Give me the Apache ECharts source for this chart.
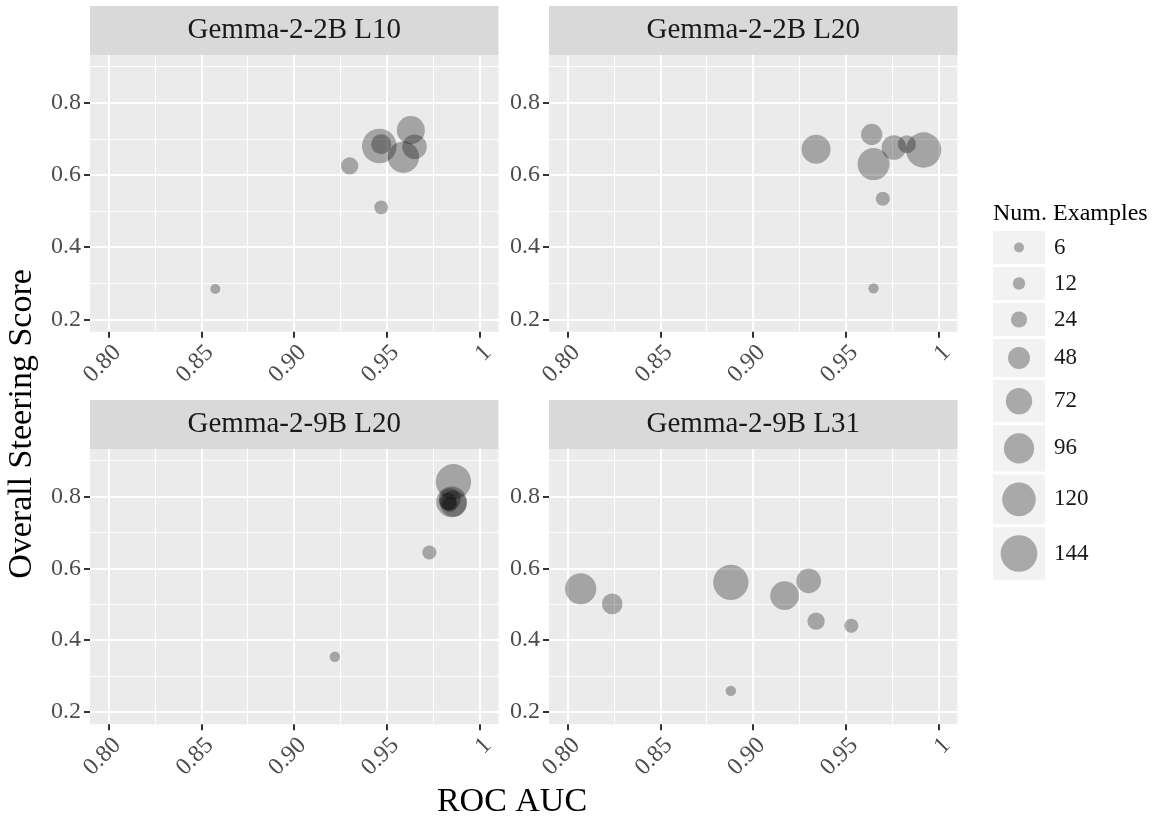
<!DOCTYPE html>
<html>
<head>
<meta charset="utf-8">
<script src="https://cdn.jsdelivr.net/npm/echarts@6/dist/echarts.min.js"></script>
<style>
  html, body { margin: 0; padding: 0; background: #fff; }
  #chart { width: 1157px; height: 821px; }
</style>
</head>
<body>
<div id="chart"></div>
<script>
const panelTitles = ['Gemma-2-2B L10', 'Gemma-2-2B L20', 'Gemma-2-9B L20', 'Gemma-2-9B L31']

// one triple of arrays per panel: ROC AUC, overall steering score, number of examples
const auc2bL10 = [0.8575, 0.930, 0.946, 0.947, 0.947, 0.959, 0.963, 0.965]
const score2bL10 = [0.284, 0.625, 0.680, 0.685, 0.510, 0.649, 0.724, 0.678]
const n2bL10 = [6, 28, 128, 40, 16, 104, 82, 62]

const auc2bL20 = [0.934, 0.964, 0.965, 0.965, 0.970, 0.976, 0.983, 0.992]
const score2bL20 = [0.671, 0.712, 0.630, 0.286, 0.534, 0.676, 0.685, 0.669]
const n2bL20 = [88, 45, 108, 7, 17, 62, 31, 133]

const auc9bL20 = [0.922, 0.973, 0.985, 0.986, 0.984, 0.983, 0.984, 0.986]
const score9bL20 = [0.354, 0.644, 0.785, 0.780, 0.792, 0.786, 0.778, 0.841]
const n9bL20 = [7, 17, 100, 72, 48, 30, 20, 133]

const auc9bL31 = [0.807, 0.824, 0.888, 0.888, 0.917, 0.930, 0.934, 0.953]
const score9bL31 = [0.543, 0.501, 0.561, 0.259, 0.524, 0.565, 0.453, 0.440]
const n9bL31 = [103, 42, 133, 7, 86, 62, 28, 17]

const xTicks = [0.80, 0.85, 0.90, 0.95, 1]
const xTickLabels = ['0.80', '0.85', '0.90', '0.95', '1']
const xMinorTicks = [0.825, 0.875, 0.925, 0.975]
const yTicks = [0.2, 0.4, 0.6, 0.8]
const yTickLabels = ['0.2', '0.4', '0.6', '0.8']
const yMinorTicks = [0.3, 0.5, 0.7, 0.9]
const legendBreaks = [6, 12, 24, 48, 72, 96, 120, 144]

const panels = [
  [auc2bL10, score2bL10, n2bL10],
  [auc2bL20, score2bL20, n2bL20],
  [auc9bL20, score9bL20, n9bL20],
  [auc9bL31, score9bL31, n9bL31],
]

const X_MIN = 0.7899
const X_MAX = 1.0103
const Y_MIN = 0.166
const Y_MAX = 0.932
const FONT = '"Liberation Serif", "DejaVu Serif", serif'
const POINT_FILL = 'rgba(0, 0, 0, 0.3)'

// point diameter grows with the square root of the count, like ggplot's area scale
function sizeOf(n) {
  return Math.sqrt(46 + 9.04 * n)
}

function labelFor(ticks, labels) {
  return (v) => {
    let best = 0
    ticks.forEach((t, i) => {
      if (Math.abs(t - v) < Math.abs(ticks[best] - v))
        best = i
    })
    return labels[best]
  }
}

const gridBoxes = [
  { left: 90, top: 55, width: 408.5, height: 276.7 },
  { left: 549, top: 55, width: 408.5, height: 276.7 },
  { left: 90, top: 449, width: 408.5, height: 275.3 },
  { left: 549, top: 449, width: 408.5, height: 275.3 },
]

const grids = []
const xAxes = []
const yAxes = []
const series = []
const graphics = []

gridBoxes.forEach((box, i) => {
  grids.push({ ...box, show: true, backgroundColor: '#ebebeb', borderWidth: 0 })

  // major grid, ticks and labels
  xAxes.push({
    gridIndex: i,
    type: 'value',
    min: X_MIN,
    max: X_MAX,
    axisLine: { show: false },
    axisTick: { show: true, customValues: xTicks, length: 6, lineStyle: { color: '#333333', width: 2 } },
    axisLabel: {
      customValues: xTicks,
      rotate: 45,
      margin: 9,
      verticalAlign: 'top',
      fontSize: 24,
      fontFamily: FONT,
      color: '#4d4d4d',
      formatter: labelFor(xTicks, xTickLabels),
    },
    splitLine: { show: true, lineStyle: { color: '#ffffff', width: 2 } },
  })
  // minor grid
  xAxes.push({
    gridIndex: i,
    type: 'value',
    position: 'bottom',
    min: X_MIN,
    max: X_MAX,
    axisLine: { show: false },
    axisTick: { show: false, customValues: xMinorTicks },
    axisLabel: { show: false, customValues: xMinorTicks },
    splitLine: { show: true, lineStyle: { color: '#ffffff', width: 1 } },
  })

  yAxes.push({
    gridIndex: i,
    type: 'value',
    min: Y_MIN,
    max: Y_MAX,
    axisLine: { show: false },
    axisTick: { show: true, customValues: yTicks, length: 6, lineStyle: { color: '#333333', width: 2 } },
    axisLabel: {
      customValues: yTicks,
      margin: 9,
      fontSize: 24,
      fontFamily: FONT,
      color: '#4d4d4d',
      formatter: labelFor(yTicks, yTickLabels),
    },
    splitLine: { show: true, lineStyle: { color: '#ffffff', width: 2 } },
  })
  yAxes.push({
    gridIndex: i,
    type: 'value',
    position: 'left',
    min: Y_MIN,
    max: Y_MAX,
    axisLine: { show: false },
    axisTick: { show: false, customValues: yMinorTicks },
    axisLabel: { show: false, customValues: yMinorTicks },
    splitLine: { show: true, lineStyle: { color: '#ffffff', width: 1 } },
  })

  const [auc, score, n] = panels[i]
  series.push({
    type: 'scatter',
    xAxisIndex: 2 * i,
    yAxisIndex: 2 * i,
    data: auc.map((a, k) => [a, score[k], n[k]]),
    symbolSize: (val) => sizeOf(val[2]),
    itemStyle: { color: POINT_FILL, opacity: 1 },
    emphasis: { disabled: true },
  })

  // facet strip
  graphics.push({
    type: 'group',
    children: [
      {
        type: 'rect',
        shape: { x: box.left, y: box.top - 49, width: box.width, height: 49 },
        style: { fill: '#d9d9d9' },
      },
      {
        type: 'text',
        x: box.left + box.width / 2,
        y: box.top - 24.5,
        style: {
          text: panelTitles[i],
          font: `29px ${FONT}`,
          fill: '#1a1a1a',
          align: 'center',
          verticalAlign: 'middle',
        },
      },
    ],
  })
})

// size legend drawn as its own little grid
const legendRows = []
let legendHeight = 0
legendBreaks.forEach((v) => {
  const h = Math.max(33, sizeOf(v) + 16)
  legendRows.push([v, legendHeight, h])
  legendHeight += h + 3
})
legendHeight -= 3

const legendGrid = grids.length
grids.push({ left: 993, top: 231, width: 52, height: legendHeight, show: false })
xAxes.push({ gridIndex: legendGrid, type: 'value', min: 0, max: 1, show: false })
yAxes.push({ gridIndex: legendGrid, type: 'value', min: 0, max: legendHeight, inverse: true, show: false })
series.push({
  type: 'custom',
  xAxisIndex: xAxes.length - 1,
  yAxisIndex: yAxes.length - 1,
  data: legendRows,
  renderItem: (params, api) => {
    const v = api.value(0)
    const top = api.value(1)
    const h = api.value(2)
    const p0 = api.coord([0, top])
    const p1 = api.coord([1, top + h])
    const cx = (p0[0] + p1[0]) / 2
    const cy = (p0[1] + p1[1]) / 2
    return {
      type: 'group',
      children: [
        { type: 'rect', shape: { x: p0[0], y: p0[1], width: p1[0] - p0[0], height: p1[1] - p0[1] }, style: { fill: '#f2f2f2' } },
        { type: 'circle', shape: { cx, cy, r: sizeOf(v) / 2 }, style: { fill: POINT_FILL } },
        { type: 'text', x: p1[0] + 9, y: cy, style: { text: String(v), font: `23px ${FONT}`, fill: '#1a1a1a', align: 'left', verticalAlign: 'middle' } },
      ],
    }
  },
})

graphics.push(
  {
    type: 'text',
    x: 993,
    y: 214,
    style: { text: 'Num. Examples', font: `24px ${FONT}`, fill: '#000000', align: 'left', verticalAlign: 'middle' },
  },
  {
    type: 'text',
    x: 512,
    y: 802,
    style: { text: 'ROC AUC', font: `34px ${FONT}`, fill: '#000000', align: 'center', verticalAlign: 'middle' },
  },
  {
    type: 'text',
    x: 22,
    y: 424,
    rotation: Math.PI / 2,
    style: { text: 'Overall Steering Score', font: `34px ${FONT}`, fill: '#000000', align: 'center', verticalAlign: 'middle' },
  },
)

const chart = echarts.init(document.getElementById('chart'), null, { renderer: 'canvas' })
chart.setOption({
  animation: false,
  backgroundColor: '#ffffff',
  grid: grids,
  xAxis: xAxes,
  yAxis: yAxes,
  series,
  graphic: graphics,
})
</script>
</body>
</html>
